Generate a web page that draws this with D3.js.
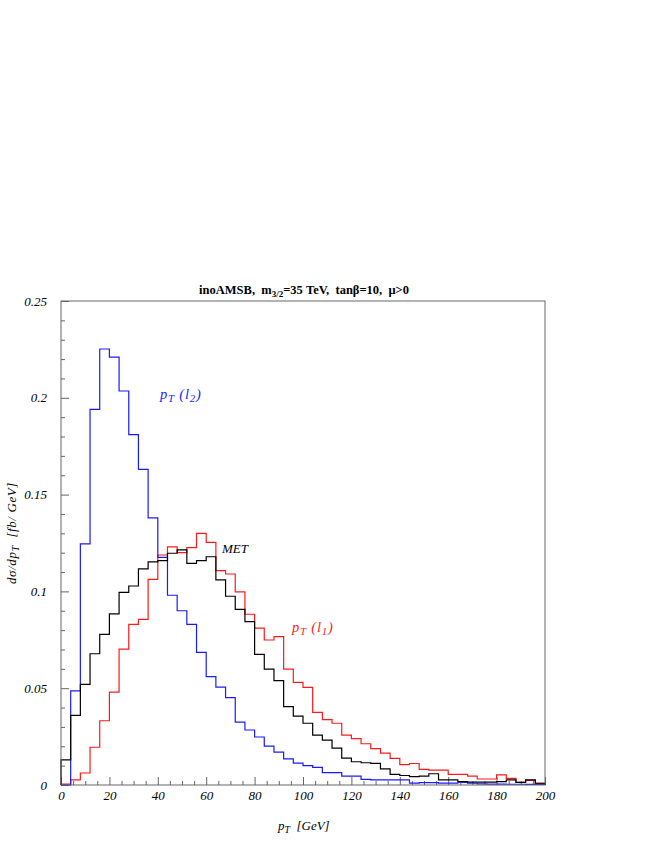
<!DOCTYPE html>
<html><head><meta charset="utf-8">
<script src="https://cdn.jsdelivr.net/npm/d3@7"></script>
<style>body{margin:0;background:#fff} text{white-space:pre}</style>
</head><body><svg id="c" width="654" height="846"></svg>
<script>
// Bin edges: 0..200 GeV in 4 GeV bins (50 bins)
const binWidth = 4;
const ptL2 = [0.0, 0.0486, 0.1245, 0.194, 0.2252, 0.221, 0.2035, 0.181, 0.163, 0.138,
  0.1176, 0.098, 0.090, 0.083, 0.0685, 0.056, 0.0506, 0.0451, 0.0325, 0.0284,
  0.0248, 0.0201, 0.017, 0.0135, 0.0113, 0.0100, 0.0091, 0.0064, 0.0064, 0.0046,
  0.0046, 0.0029, 0.0026, 0.0026, 0.0026, 0.0026, 0.0010, 0.0012, 0.0012, 0.0010,
  0.0010, 0.0014, 0.0009, 0.0006, 0.0005, 0.0005, 0.0004, 0.0004, 0.0003, 0.0003];
const met = [0.013, 0.036, 0.052, 0.0678, 0.0778, 0.0884, 0.0995, 0.1028, 0.1116, 0.1153,
  0.1159, 0.1197, 0.1214, 0.1145, 0.1159, 0.1179, 0.106, 0.0975, 0.0907, 0.0844,
  0.0675, 0.0599, 0.0539, 0.0405, 0.0356, 0.0319, 0.0258, 0.0232, 0.019, 0.0139,
  0.012, 0.0115, 0.0112, 0.0083, 0.0055, 0.0049, 0.0043, 0.0046, 0.0058, 0.0026,
  0.0026, 0.0018, 0.0015, 0.0015, 0.0015, 0.0017, 0.0026, 0.0014, 0.0026, 0.0009];
const ptL1 = [0.0005, 0.0026, 0.0062, 0.0195, 0.0332, 0.048, 0.0702, 0.083, 0.0856, 0.1062,
  0.1188, 0.123, 0.120, 0.1226, 0.130, 0.1253, 0.1107, 0.109, 0.0998, 0.0882,
  0.081, 0.0749, 0.0766, 0.0599, 0.053, 0.0504, 0.0375, 0.0338, 0.0319, 0.0258,
  0.024, 0.0213, 0.0188, 0.0165, 0.0138, 0.0105, 0.0111, 0.0081, 0.0077, 0.0077,
  0.0055, 0.0055, 0.0046, 0.0031, 0.0031, 0.0052, 0.0034, 0.0014, 0.0024, 0.0009];
const xTicks = [0, 20, 40, 60, 80, 100, 120, 140, 160, 180, 200];
const xTickLabels = ["0", "20", "40", "60", "80", "100", "120", "140", "160", "180", "200"];
const yTicks = [0, 0.05, 0.1, 0.15, 0.2, 0.25];
const yTickLabels = ["0", "0.05", "0.1", "0.15", "0.2", "0.25"];

const L = 61, R = 545, T = 301, B = 785;
const svg = d3.select("#c");
const x = d3.scaleLinear().domain([0, 200]).range([L, R]);
const y = d3.scaleLinear().domain([0, 0.25]).range([B, T]);
const serif = "'Liberation Serif','DejaVu Serif',serif";
const axisColor = "#666";

// minor ticks
const xMinor = d3.range(0, 201, 5).filter(v => v % 20 !== 0);
const yMinor = d3.range(0, 26, 1).filter(v => v % 5 !== 0).map(v => v / 100);

function styleAxis(g) {
  g.select(".domain").remove();
  g.selectAll("line").attr("stroke", axisColor).attr("stroke-width", 1);
  g.selectAll("text").attr("font-family", serif).attr("font-style", "italic")
    .attr("font-size", 13).attr("fill", "#000");
}
svg.append("g").attr("transform", `translate(0,${B})`)
  .call(d3.axisBottom(x).tickValues(xMinor).tickSize(-4).tickFormat("")).call(styleAxis);
svg.append("g").attr("transform", `translate(0,${B})`)
  .call(d3.axisBottom(x).tickValues(xTicks).tickSize(-8).tickPadding(6)
    .tickFormat((d, i) => xTickLabels[i])).call(styleAxis);
svg.append("g").attr("transform", `translate(${L},0)`)
  .call(d3.axisLeft(y).tickValues(yMinor).tickSize(-4).tickFormat("")).call(styleAxis);
svg.append("g").attr("transform", `translate(${L},0)`)
  .call(d3.axisLeft(y).tickValues(yTicks).tickSize(-8).tickPadding(14)
    .tickFormat((d, i) => yTickLabels[i])).call(styleAxis);

// histograms
function histPts(vals) {
  const pts = [[0, 0]];
  vals.forEach((v, i) => pts.push([i * binWidth, v]));
  pts.push([vals.length * binWidth, vals[vals.length - 1]]);
  pts.push([vals.length * binWidth, 0]);
  return pts;
}
const line = d3.line().x(d => x(d[0])).y(d => y(d[1])).curve(d3.curveStepAfter);
[[ptL1, "#ff1a1a"], [ptL2, "#1a1aff"], [met, "#000"]].forEach(([vals, col]) => {
  svg.append("path").attr("d", line(histPts(vals))).attr("fill", "none")
    .attr("stroke", col).attr("stroke-width", 1.2);
});

// frame
svg.append("rect").attr("x", L).attr("y", T).attr("width", R - L).attr("height", B - T)
  .attr("fill", "none").attr("stroke", axisColor).attr("stroke-width", 1);

// title
const title = svg.append("text").attr("x", 304).attr("y", 294).attr("text-anchor", "middle")
  .attr("font-family", serif).attr("font-weight", "bold").attr("font-size", 12.5);
title.append("tspan").text("inoAMSB,\u00a0\u00a0m");
title.append("tspan").attr("font-size", 9).attr("dy", 3).text("3/2");
title.append("tspan").attr("dy", -3).text("=35\u00a0TeV,\u00a0\u00a0tanβ=10,\u00a0\u00a0μ>0");

// annotations
function sublabel(xp, yp, col, main, sub, tail, tailSub, fs) {
  const t = svg.append("text").attr("x", xp).attr("y", yp).attr("fill", col)
    .attr("font-family", serif).attr("font-style", "italic").attr("font-size", fs);
  t.append("tspan").text(main);
  t.append("tspan").attr("font-size", fs * 0.75).attr("dy", 3).text(sub);
  t.append("tspan").attr("dy", -3).text(tail);
  if (tailSub) {
    t.append("tspan").attr("font-size", fs * 0.75).attr("dy", 3).text(tailSub);
    t.append("tspan").attr("dy", -3).text(")");
  }
  return t;
}
sublabel(160, 399, "#1a1aff", "p", "T", "\u00a0(l", "2", 14.5).attr("letter-spacing", 0.8);
sublabel(292, 632, "#ff1a1a", "p", "T", "\u00a0(l", "1", 14.5).attr("letter-spacing", 0.8);
svg.append("text").attr("x", 222).attr("y", 553).attr("font-family", serif)
  .attr("font-style", "italic").attr("font-size", 13).text("MET");

// axis titles
sublabel(278, 830, "#000", "p", "T", "\u00a0\u00a0[GeV]", null, 13);
const yt = svg.append("text").attr("transform", "translate(16,533) rotate(-90)")
  .attr("text-anchor", "middle").attr("font-family", serif).attr("font-style", "italic")
  .attr("font-size", 13).attr("letter-spacing", 0.6);
yt.append("tspan").text("dσ/dp");
yt.append("tspan").attr("font-size", 10).attr("dy", 3).text("T");
yt.append("tspan").attr("dy", -3).text("\u00a0\u00a0[fb/\u00a0GeV]");
</script></body></html>
